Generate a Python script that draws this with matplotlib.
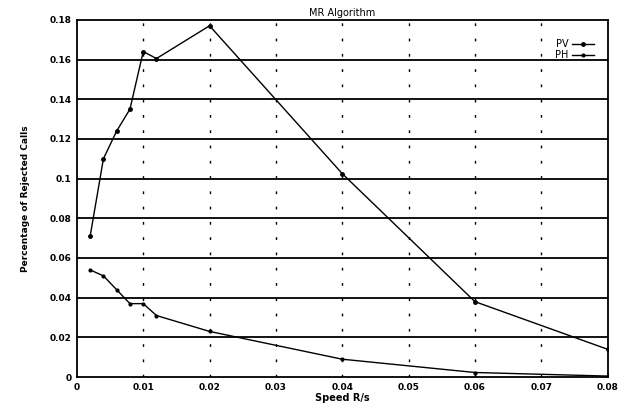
import matplotlib
matplotlib.use('Agg')
import matplotlib.pyplot as plt

# speed values (R/s) and rejection rates
pv_speed = [0.002, 0.004, 0.006, 0.008, 0.010, 0.012, 0.020, 0.040, 0.060, 0.080]
pv_reject = [0.071, 0.110, 0.124, 0.135, 0.164, 0.1605, 0.177, 0.1025, 0.038, 0.014]

ph_speed = [0.002, 0.004, 0.006, 0.008, 0.010, 0.012, 0.020, 0.040, 0.060, 0.080]
ph_reject = [0.054, 0.051, 0.044, 0.037, 0.037, 0.031, 0.023, 0.009, 0.0023, 0.0005]

x_ticks = [0, 0.01, 0.02, 0.03, 0.04, 0.05, 0.06, 0.07, 0.08]
x_labels = ['0', '0.01', '0.02', '0.03', '0.04', '0.05', '0.06', '0.07', '0.08']
y_ticks = [0, 0.02, 0.04, 0.06, 0.08, 0.1, 0.12, 0.14, 0.16, 0.18]
y_labels = ['0', '0.02', '0.04', '0.06', '0.08', '0.1', '0.12', '0.14', '0.16', '0.18']

fig = plt.figure(figsize=(6.2, 4.13), dpi=100)
ax = fig.add_axes([0.124, 0.087, 0.856, 0.865])

ax.plot(pv_speed, pv_reject, color='black', linewidth=1.0,
        marker='o', markersize=2.5, label='PV')
ax.plot(ph_speed, ph_reject, color='black', linewidth=1.0,
        marker='o', markersize=2.0, label='PH')

ax.set_xlim(0, 0.08)
ax.set_ylim(0, 0.18)
ax.set_xticks(x_ticks)
ax.set_xticklabels(x_labels, fontsize=6.5, fontweight='bold')
ax.set_yticks(y_ticks)
ax.set_yticklabels(y_labels, fontsize=6.5, fontweight='bold')
ax.tick_params(length=0, pad=4)

# horizontal grid solid, vertical grid dotted
for yv in y_ticks[1:-1]:
    ax.axhline(yv, color='black', linewidth=1.3, zorder=0)
for xv in x_ticks[1:-1]:
    ax.axvline(xv, color='black', linewidth=1.0, linestyle=(0, (2, 9)), zorder=0)

for s in ax.spines.values():
    s.set_linewidth(1.3)

ax.set_title('MR Algorithm', fontsize=7, pad=3)
ax.set_xlabel('Speed R/s', fontsize=7, fontweight='bold', labelpad=1)
ax.set_ylabel('Percentage of Rejected Calls', fontsize=6.5, fontweight='bold', labelpad=14)

ax.legend(loc='upper right', frameon=False, fontsize=7, markerfirst=False,
          numpoints=1, handlelength=2.2, handletextpad=0.4, labelspacing=0.1,
          bbox_to_anchor=(0.99, 0.97))

plt.savefig('out.png', dpi=100)
